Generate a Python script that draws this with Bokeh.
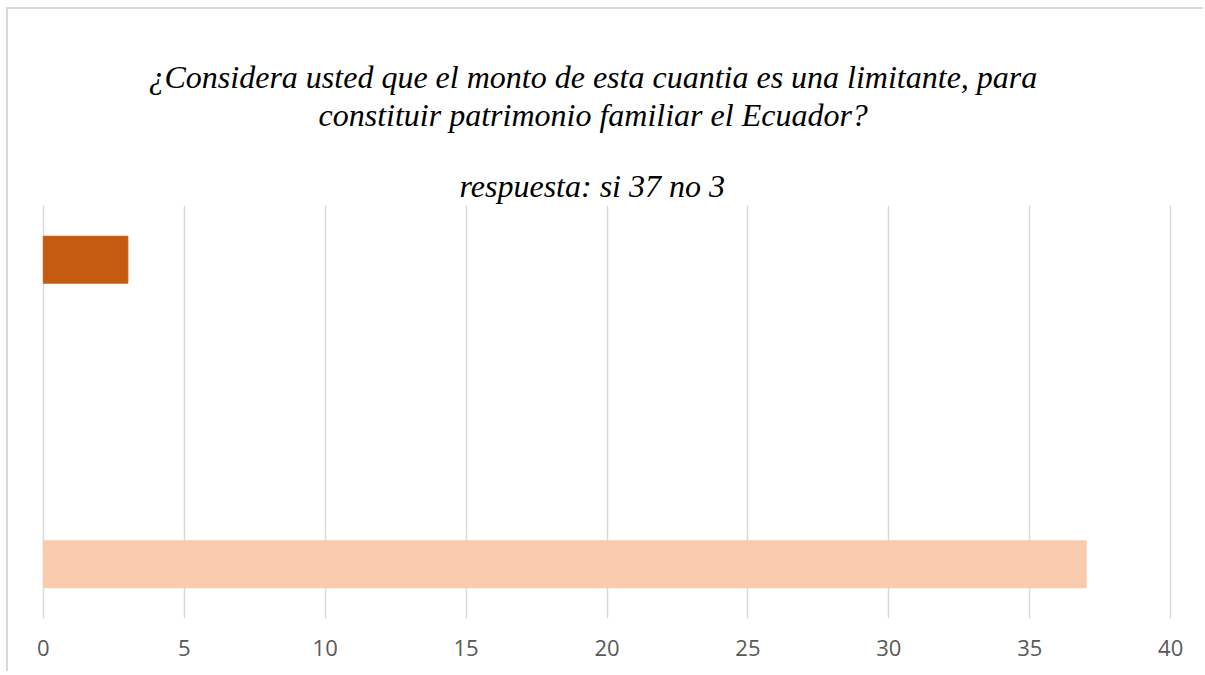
from bokeh.plotting import figure
from bokeh.models import FactorRange, Range1d, Title, ColumnDataSource
from bokeh.embed import file_html
from bokeh.resources import INLINE

categories = ["si", "no"]
values = [37, 3]
colors = ["#F8CBAD", "#C55A11"]
x_ticks = [0, 5, 10, 15, 20, 25, 30, 35, 40]
title_line1 = "¿Considera usted que el monto de esta cuantia es una limitante, para"
title_line2 = "constituir patrimonio familiar el Ecuador?"
title_sub = "respuesta: si 37 no 3"

src = ColumnDataSource(dict(cat=categories, val=values, col=colors))

p = figure(width=1197, height=664,
           y_range=FactorRange(factors=categories, range_padding=-0.322),
           x_range=Range1d(-0.1, 40.1),
           output_backend="svg", toolbar_location=None,
           min_border_left=32, min_border_right=32,
           min_border_top=196, min_border_bottom=55)
p.styles = {"border-top": "2px solid #D9D9D9", "border-left": "2px solid #D9D9D9",
            "margin-left": "6px", "margin-top": "7px"}

p.hbar(y="cat", right="val", left=0, height=0.154, color="col", source=src)

def make_title(txt, standoff, shift, size="32px"):
    return Title(text=txt, align="left", offset=shift, text_font="Liberation Serif",
                 text_font_style="italic", text_font_size=size, text_color="#000000",
                 standoff=standoff)

# titles stack outward from the plot frame in the order they are added
p.add_layout(make_title(title_sub, 4, 419), "above")
p.add_layout(make_title(" ", 0, 0, "26px"), "above")
p.add_layout(make_title(title_line2, 0, 278), "above")
p.add_layout(make_title(title_line1, 0, 108), "above")

p.xaxis.ticker = x_ticks
p.xaxis.axis_line_color = None
p.xaxis.major_tick_line_color = None
p.xaxis.minor_tick_line_color = None
p.xaxis.major_label_text_font = "Open Sans"
p.xaxis.major_label_text_font_size = "22px"
p.xaxis.major_label_text_color = "#595959"
p.xaxis.major_label_standoff = 15
p.yaxis.visible = False

p.xgrid.grid_line_color = "#D9D9D9"
p.xgrid.grid_line_width = 1.5
p.ygrid.grid_line_color = None
p.outline_line_color = None

open("out.html", "w").write(file_html(p, INLINE))
